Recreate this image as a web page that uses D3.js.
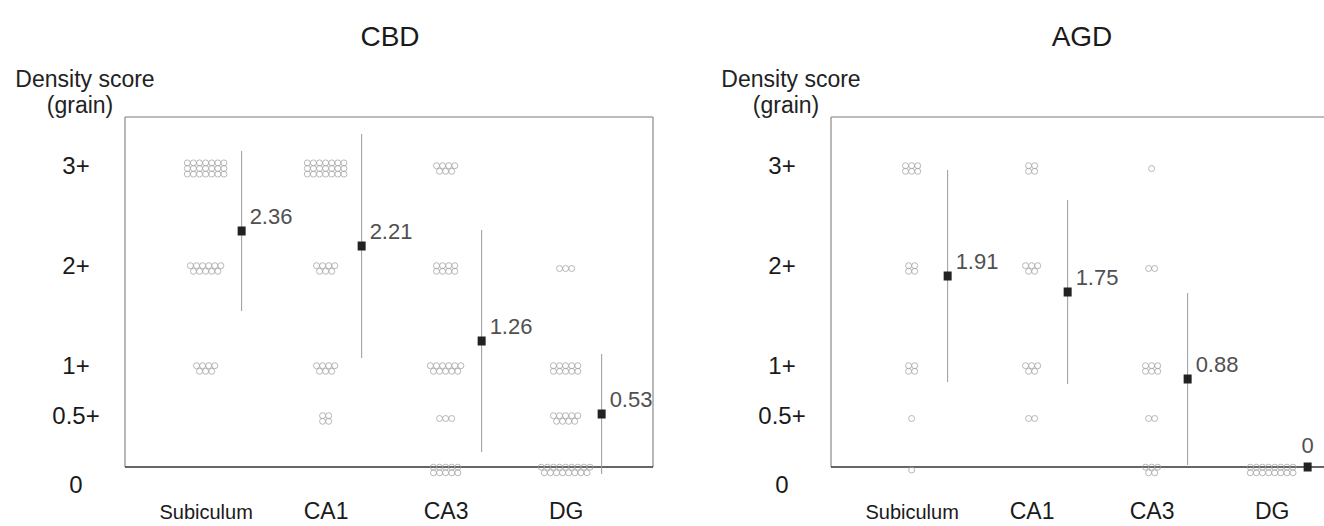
<!DOCTYPE html>
<html>
<head>
<meta charset="utf-8">
<script src="https://cdn.jsdelivr.net/npm/d3@7"></script>
<style>
  html, body { margin: 0; padding: 0; background: #fff; }
  svg { display: block; font-family: "Liberation Sans", Arial, sans-serif; }
</style>
</head>
<body>
<svg id="chart" width="1324" height="526"></svg>
<script>
// ---------- data ----------
const categories = ["Subiculum", "CA1", "CA3", "DG"];
const scoreLevels = [3, 2, 1, 0.5, 0];
const tickLabels = ["3+", "2+", "1+", "0.5+", "0"];

// number of cases at each score level (order of scoreLevels), per region
const cbdCounts = [
  [21, 11, 7, 0, 0],
  [21, 7, 7, 4, 0],
  [7, 8, 11, 3, 10],
  [0, 3, 10, 9, 17]
];
const cbdMeans = [2.36, 2.21, 1.26, 0.53];
const cbdSD = [0.80, 1.12, 1.11, 0.60];

const agdCounts = [
  [6, 4, 4, 1, 1],
  [4, 5, 5, 2, 0],
  [1, 2, 6, 2, 5],
  [0, 0, 0, 0, 16]
];
const agdMeans = [1.91, 1.75, 0.88, 0];
const agdSD = [1.06, 0.92, 0.86, 0];

const panelNames = ["CBD", "AGD"];

// ---------- layout ----------
const svg = d3.select("#chart");
const boxTop = 117, boxBottom = 467, boxW = 528;
const panels = [
  { name: panelNames[0], left: 125, counts: cbdCounts, means: cbdMeans, sd: cbdSD, titleX: 390 },
  { name: panelNames[1], left: 831, counts: agdCounts, means: agdMeans, sd: agdSD, titleX: 1082 }
];

const y = d3.scaleLinear().domain([0, 3.5]).range([boxBottom, boxTop]);

function rowsFor(n) {
  if (n === 0) return [];
  const nr = n <= 3 ? 1 : Math.max(2, Math.ceil(n / 9));
  const rows = [];
  let rem = n;
  for (let i = 0; i < nr; i++) {
    const c = Math.ceil(rem / (nr - i));
    rows.push(c);
    rem -= c;
  }
  return rows;
}

panels.forEach(p => {
  const g = svg.append("g");
  const x = d3.scalePoint().domain(categories).range([p.left, p.left + boxW]).padding(0.7).align(0.48);

  // title
  g.append("text").attr("x", p.titleX).attr("y", 46).attr("text-anchor", "middle")
    .attr("font-size", 28).attr("fill", "#1a1a1a").text(p.name);

  // axis title
  g.append("text").attr("x", p.left - 40).attr("y", 87).attr("text-anchor", "middle")
    .attr("font-size", 23).attr("fill", "#222").text("Density score");
  g.append("text").attr("x", p.left - 45).attr("y", 113).attr("text-anchor", "middle")
    .attr("font-size", 23).attr("fill", "#222").text("(grain)");

  // box
  g.append("line").attr("x1", p.left).attr("x2", p.left + boxW).attr("y1", boxTop).attr("y2", boxTop)
    .attr("stroke", "#7a7a7a").attr("stroke-width", 1.2);
  g.append("line").attr("x1", p.left).attr("x2", p.left).attr("y1", boxTop).attr("y2", boxBottom)
    .attr("stroke", "#8a8a8a").attr("stroke-width", 1.2);
  g.append("line").attr("x1", p.left + boxW).attr("x2", p.left + boxW).attr("y1", boxTop).attr("y2", boxBottom)
    .attr("stroke", "#8a8a8a").attr("stroke-width", 1.2);

  // y axis labels
  const yAxis = d3.axisLeft(y).tickValues(scoreLevels)
    .tickFormat((d, i) => tickLabels[i]).tickSize(0).tickPadding(0);
  const ya = g.append("g").attr("transform", `translate(${p.left},0)`).call(yAxis);
  ya.select(".domain").remove();
  ya.selectAll("text")
    .attr("x", -49).attr("text-anchor", "middle")
    .attr("font-size", 24).attr("fill", "#1a1a1a")
    .attr("font-family", "Liberation Sans, Arial, sans-serif")
    .attr("dy", d => d === 0 ? "1.05em" : "0.25em");

  // x axis (bottom line + category labels)
  const xAxis = d3.axisBottom(x).tickSize(0).tickPadding(0);
  const xa = g.append("g").attr("transform", `translate(0,${boxBottom})`).call(xAxis);
  xa.select(".domain").attr("stroke", "#333").attr("stroke-width", 1.6)
    .attr("d", `M${p.left},0H${p.left + boxW}`);
  xa.selectAll("text")
    .attr("y", 52).attr("dy", 0)
    .attr("fill", "#1a1a1a")
    .attr("font-family", "Liberation Sans, Arial, sans-serif")
    .attr("font-size", d => d === "Subiculum" ? 20 : 23);

  const dotR = 3, dx = 6.1, dy = 5.6, meanOff = 36;

  categories.forEach((cat, ci) => {
    const cx = x(cat);
    // dot clusters
    scoreLevels.forEach((lvl, li) => {
      const rows = rowsFor(p.counts[ci][li]);
      const cy = y(lvl) + (lvl === 0 ? 3 : 1.5);
      rows.forEach((c, ri) => {
        const ry = cy + (ri - (rows.length - 1) / 2) * dy;
        for (let j = 0; j < c; j++) {
          g.append("circle")
            .attr("cx", cx + (j - (c - 1) / 2) * dx)
            .attr("cy", ry)
            .attr("r", dotR)
            .attr("fill", "none")
            .attr("stroke", "#a0a0a0")
            .attr("stroke-width", 0.75);
        }
      });
    });

    // error bar
    const mx = cx + meanOff;
    const m = p.means[ci], s = p.sd[ci];
    if (s > 0) {
      g.append("line").attr("x1", mx).attr("x2", mx)
        .attr("y1", y(m + s)).attr("y2", y(m - s))
        .attr("stroke", "#9a9a9a").attr("stroke-width", 1);
    }
    g.append("rect").attr("x", mx - 4).attr("y", y(m) - 4.5).attr("width", 8).attr("height", 9)
      .attr("fill", "#222");
    g.append("text").attr("x", m === 0 ? mx : mx + 8).attr("y", y(m) - (m === 0 ? 14 : 7))
      .attr("text-anchor", m === 0 ? "middle" : "start")
      .attr("font-size", 22).attr("fill", "#505050").text(m === 0 ? "0" : m.toFixed(2));
  });
});
</script>
</body>
</html>
